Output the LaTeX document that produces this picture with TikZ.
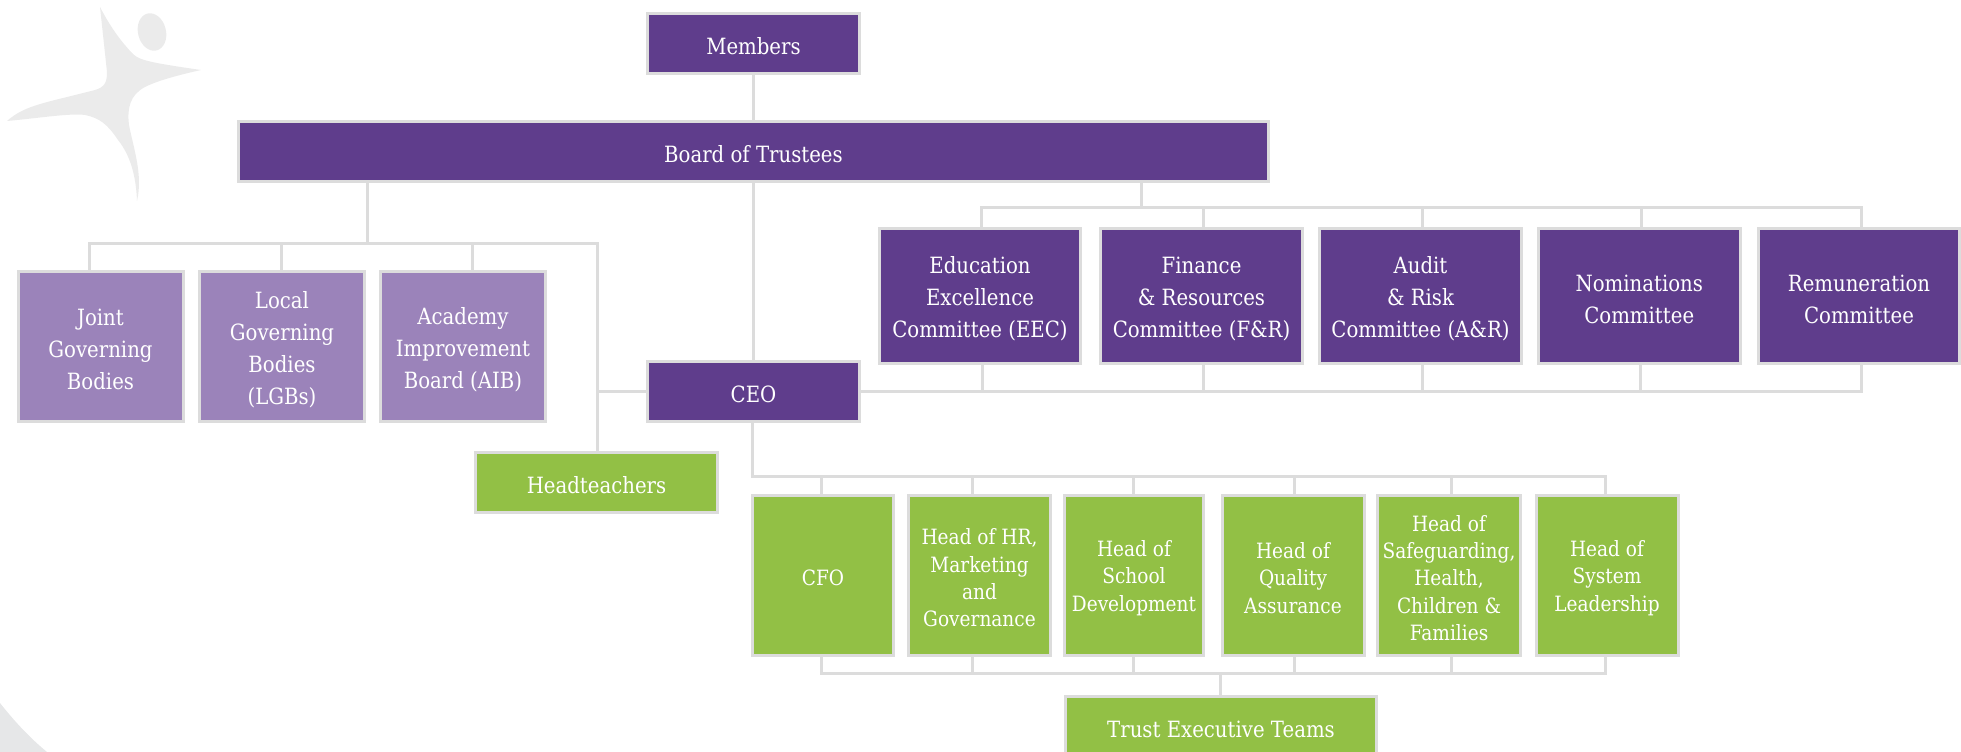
\documentclass[tikz,border=0pt]{standalone}
\usepackage{fontspec}
\setmainfont[FakeStretch=0.88]{DejaVu Serif}
\definecolor{purp}{HTML}{5F3D8C}
\definecolor{lilac}{HTML}{9B83BA}
\definecolor{leaf}{HTML}{92C045}
\definecolor{edge}{HTML}{DCDCDC}
\definecolor{logo}{HTML}{EBEBEB}
\definecolor{arcg}{HTML}{E6E7E8}
\tikzset{
  boxbase/.style={draw=edge,line width=2.25pt,inner sep=0pt,text=white,font=\fontsize{16.8}{24}\selectfont},
  purplebox/.style={boxbase,fill=purp},
  lilacbox/.style={boxbase,fill=lilac},
  greenbox/.style={boxbase,fill=leaf},
  smallgreen/.style={greenbox,font=\fontsize{15.8}{20.5}\selectfont},
  conn/.style={draw=edge,line width=2.25pt,line cap=rect,line join=miter},
}
\newcommand{\lbl}[1]{\vbox{\kern4.4pt\hbox to 0pt{\hss\parbox{300pt}{\centering #1}\hss}}}
\newcommand{\bx}[7]{\node[#6,minimum width={(#4-#2-3)*0.75pt},minimum height={(#5-#3-3)*0.75pt}] (#1) at ({(#2+#4)/2},{(#3+#5)/2}) {\lbl{#7}};}
\begin{document}
\begin{tikzpicture}[x=0.75pt,y=-0.75pt]
\useasboundingbox (0,0) rectangle (1961,752);
\begin{scope}
\clip (0,0) rectangle (1961,752);
% background marks
\fill[logo] (100,7) .. controls (112,30) and (122,42) .. (131,52)
  .. controls (138,60) and (146,62) .. (201,70)
  .. controls (170,77) and (155,82) .. (145,87)
  .. controls (130,95) and (127,108) .. (129,125)
  .. controls (134,150) and (143,175) .. (137,201)
  .. controls (136,175) and (130,155) .. (118,140)
  .. controls (108,125) and (100,118) .. (85,115)
  .. controls (70,113) and (40,118) .. (7,121)
  .. controls (25,105) and (45,103) .. (95,90)
  .. controls (105,87) and (107,82) .. (107,72)
  -- cycle;
\fill[logo,rotate around={14:(152,32)}] (152,32) ellipse [x radius=14,y radius=19];
\fill[arcg] (0,703) .. controls (15,722) and (30,738) .. (47,752) -- (0,752) -- cycle;
% junction points
\coordinate (trunkTop) at (753,150);
\coordinate (govDrop) at (367.5,244);
\coordinate (govStart) at (89,244);
\coordinate (govA) at (281,244);
\coordinate (govB) at (472,244);
\coordinate (govEnd) at (597,244);
\coordinate (ceoJoin) at (597,392);
\coordinate (comDrop) at (1141.7,208);
\coordinate (comA) at (981.7,208);
\coordinate (comB) at (1203,208);
\coordinate (comC) at (1422.4,208);
\coordinate (comD) at (1641,208);
\coordinate (comE) at (1861.7,208);
\coordinate (retA) at (982,392);
\coordinate (retB) at (1203,392);
\coordinate (retC) at (1422.4,392);
\coordinate (retD) at (1640.5,392);
\coordinate (retE) at (1861.7,392);
\coordinate (staffCorner) at (752,476);
\coordinate (stA) at (821,476);
\coordinate (stB) at (972.7,476);
\coordinate (stC) at (1133,476);
\coordinate (stD) at (1294,476);
\coordinate (stE) at (1451,476);
\coordinate (stF) at (1605.5,476);
\coordinate (teamA) at (821,673);
\coordinate (teamB) at (972.7,673);
\coordinate (teamC) at (1133,673);
\coordinate (teamD) at (1294,673);
\coordinate (teamE) at (1451,673);
\coordinate (teamF) at (1605.5,673);
\coordinate (teamDrop) at (1220.6,673);
% boxes
\bx{members}{646}{12}{861}{75}{purplebox}{Members}
\bx{board}{237}{120}{1270}{183}{purplebox}{Board of Trustees}
\bx{joint}{16.5}{270}{184.5}{423}{lilacbox}{Joint\\Governing\\Bodies}
\bx{local}{198}{270}{366}{423}{lilacbox}{Local\\Governing\\Bodies\\(LGBs)}
\bx{aib}{379}{270}{547}{423}{lilacbox}{Academy\\Improvement\\Board (AIB)}
\bx{ceo}{646}{360}{861}{423}{purplebox}{CEO}
\bx{edu}{878}{227}{1082}{365.5}{purplebox}{Education\\Excellence\\Committee (EEC)}
\bx{fin}{1099}{227}{1304}{365.5}{purplebox}{Finance\\\& Resources\\Committee (F\&R)}
\bx{aud}{1318}{227}{1523}{365.5}{purplebox}{Audit\\\& Risk\\Committee (A\&R)}
\bx{nom}{1537}{227}{1741.5}{365.5}{purplebox}{Nominations\\Committee}
\bx{rem}{1757}{227}{1961}{365.5}{purplebox}{Remuneration\\Committee}
\bx{head}{474}{451}{719}{514}{greenbox}{Headteachers}
\bx{cfo}{751}{493.5}{895}{656.5}{smallgreen}{CFO}
\bx{hr}{907}{493.5}{1052}{656.5}{smallgreen}{Head of HR,\\Marketing\\and\\Governance}
\bx{school}{1063}{493.5}{1205}{656.5}{smallgreen}{Head of\\School\\Development}
\bx{qual}{1220.5}{493.5}{1365.5}{656.5}{smallgreen}{Head of\\Quality\\Assurance}
\bx{safe}{1376}{493.5}{1522}{656.5}{smallgreen}{Head of\\Safeguarding,\\Health,\\Children \&\\Families}
\bx{sys}{1534.5}{493.5}{1679.5}{656.5}{smallgreen}{Head of\\System\\Leadership}
\bx{trust}{1064}{695}{1378}{757}{greenbox}{Trust Executive Teams}
% connectors
\draw[conn] (members.south -| trunkTop) -- (board.north -| trunkTop);
\draw[conn] (board.south -| trunkTop) -- (ceo.north -| trunkTop);
\draw[conn] (board.south -| govDrop) -- (govDrop);
\draw[conn] (joint.north -| govStart) -- (govStart) -- (govEnd) -- (head.north -| govEnd);
\draw[conn] (govA) -- (local.north -| govA);
\draw[conn] (govB) -- (aib.north -| govB);
\draw[conn] (ceoJoin) -- (ceo.west |- ceoJoin);
\draw[conn] (board.south -| comDrop) -- (comDrop);
\draw[conn] (edu.north -| comA) -- (comA) -- (comE) -- (rem.north -| comE);
\draw[conn] (comB) -- (fin.north -| comB);
\draw[conn] (comC) -- (aud.north -| comC);
\draw[conn] (comD) -- (nom.north -| comD);
\draw[conn] (ceo.east |- retE) -- (retE) -- (rem.south -| retE);
\draw[conn] (retA) -- (edu.south -| retA);
\draw[conn] (retB) -- (fin.south -| retB);
\draw[conn] (retC) -- (aud.south -| retC);
\draw[conn] (retD) -- (nom.south -| retD);
\draw[conn] (ceo.south -| staffCorner) -- (staffCorner) -- (stF) -- (sys.north -| stF);
\draw[conn] (stA) -- (cfo.north -| stA);
\draw[conn] (stB) -- (hr.north -| stB);
\draw[conn] (stC) -- (school.north -| stC);
\draw[conn] (stD) -- (qual.north -| stD);
\draw[conn] (stE) -- (safe.north -| stE);
\draw[conn] (cfo.south -| teamA) -- (teamA) -- (teamF) -- (sys.south -| teamF);
\draw[conn] (teamB) -- (hr.south -| teamB);
\draw[conn] (teamC) -- (school.south -| teamC);
\draw[conn] (teamD) -- (qual.south -| teamD);
\draw[conn] (teamE) -- (safe.south -| teamE);
\draw[conn] (teamDrop) -- (trust.north -| teamDrop);
\end{scope}
\end{tikzpicture}
\end{document}
